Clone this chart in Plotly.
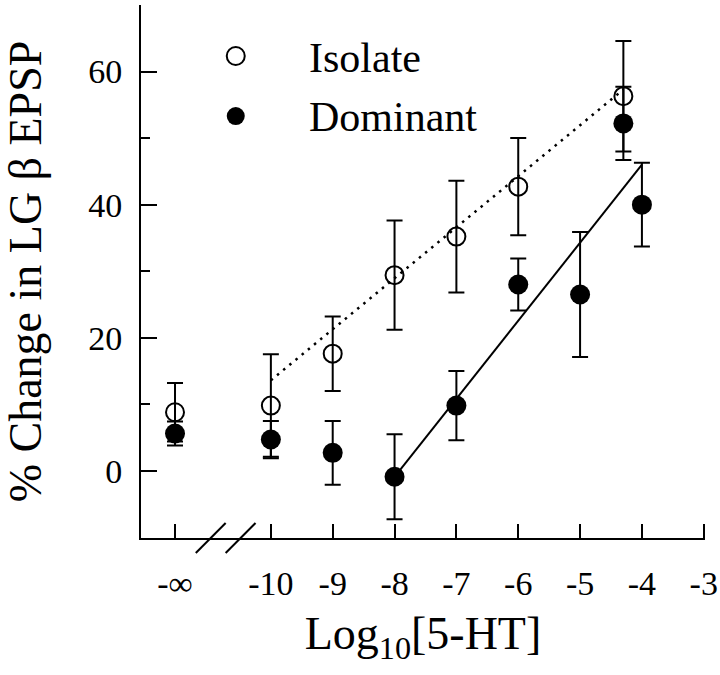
import plotly.graph_objects as go

# ---- data ----
x_tick_vals = [-11.55, -10, -9, -8, -7, -6, -5, -4, -3]
x_tick_text = ["-∞", "-10", "-9", "-8", "-7", "-6", "-5", "-4", "-3"]

iso_x = [-11.55, -10, -9, -8, -7, -6, -4.3]
iso_y = [8.8, 9.8, 17.6, 29.4, 35.2, 42.7, 56.3]
iso_err = [4.4, 7.7, 5.6, 8.2, 8.4, 7.3, 8.3]

dom_x = [-11.55, -10, -9, -8, -7, -6, -5, -4.3, -4]
dom_y = [5.6, 4.7, 2.7, -0.9, 9.8, 28.0, 26.5, 52.2, 40.0]
dom_err = [1.8, 2.8, 4.8, 6.4, 5.2, 3.9, 9.4, 5.5, 6.3]

iso_fit_x = [-10, -4.3]
iso_fit_y = [13.6, 57.3]
dom_fit_x = [-8, -4]
dom_fit_y = [-0.9, 46.0]

FONT = "Liberation Serif"

fig = go.Figure()

fig.add_trace(go.Scatter(x=iso_fit_x, y=iso_fit_y, mode="lines",
                         line=dict(color="black", width=2.5, dash="2.5px,5.5px"),
                         showlegend=False, hoverinfo="skip"))
fig.add_trace(go.Scatter(x=dom_fit_x, y=dom_fit_y, mode="lines",
                         line=dict(color="black", width=2),
                         showlegend=False, hoverinfo="skip"))

fig.add_trace(go.Scatter(
    x=iso_x, y=iso_y, mode="markers", name="Isolate",
    marker=dict(symbol="circle-open", size=18, color="black", line=dict(width=2, color="black")),
    error_y=dict(type="data", array=iso_err, color="black", thickness=2, width=8),
    showlegend=False))
fig.add_trace(go.Scatter(
    x=dom_x, y=dom_y, mode="markers", name="Dominant",
    marker=dict(symbol="circle", size=20, color="black", line=dict(width=0)),
    error_y=dict(type="data", array=dom_err, color="black", thickness=2, width=8),
    showlegend=False))

# legend (drawn manually)
shapes = []
for yp, filled in [(0.9043, False), (0.7917, True)]:
    shapes.append(dict(type="circle", xref="paper", yref="paper",
                       xsizemode="pixel", ysizemode="pixel",
                       xanchor=0.168, yanchor=yp,
                       x0=-9, x1=9, y0=-9, y1=9,
                       line=dict(color="black", width=2 if not filled else 0),
                       fillcolor="black" if filled else "rgba(0,0,0,0)"))
# axis break marks
for x0, x1 in [(-11.214, -10.731), (-10.731, -10.248)]:
    shapes.append(dict(type="line", xref="x", yref="paper", x0=x0, x1=x1,
                       y0=-0.028, y1=0.028, line=dict(color="black", width=2)))

annotations = [
    dict(text="Isolate", xref="paper", yref="paper", x=0.295, y=0.90,
         xanchor="left", yanchor="middle", showarrow=False,
         font=dict(family=FONT, size=42, color="black")),
    dict(text="Dominant", xref="paper", yref="paper", x=0.295, y=0.79,
         xanchor="left", yanchor="middle", showarrow=False,
         font=dict(family=FONT, size=42, color="black")),
]

fig.update_layout(
    width=720, height=675,
    margin=dict(l=141, r=15, t=5, b=137, autoexpand=False),
    paper_bgcolor="white", plot_bgcolor="white",
    font=dict(family=FONT, color="black"),
    shapes=shapes, annotations=annotations,
    xaxis=dict(range=[-12.1, -2.98], tickmode="array", tickvals=x_tick_vals, ticktext=x_tick_text,
               ticks="inside", ticklen=14, tickwidth=2, tickcolor="black",
               showline=True, linecolor="black", linewidth=2, mirror=False,
               showgrid=False, zeroline=False, automargin=False,
               ticklabeloverflow="allow",
               tickfont=dict(family=FONT, size=34, color="black"),
               ticklabelstandoff=14,
               title=dict(text="Log<sub>10</sub>[5-HT]", font=dict(family=FONT, size=46, color="black"),
                          standoff=16)),
    yaxis=dict(range=[-10.1, 70], tickmode="array", tickvals=[0, 20, 40, 60],
               ticktext=["0", "20", "40", "60"],
               ticks="inside", ticklen=16, tickwidth=2, tickcolor="black",
               minor=dict(tickmode="array", tickvals=[10, 30, 50, 70], ticks="inside",
                          ticklen=9, tickwidth=2, tickcolor="black"),
               showline=True, linecolor="black", linewidth=2, mirror=False,
               showgrid=False, zeroline=False, automargin=False,
               tickfont=dict(family=FONT, size=34, color="black"),
               ticklabelstandoff=10,
               title=dict(text="% Change in LG β EPSP", font=dict(family=FONT, size=46, color="black"),
                          standoff=34)),
)

fig.write_html("out.html", config={"displayModeBar": False},
               post_script="document.body.style.margin='0px';document.body.style.padding='0px';")
